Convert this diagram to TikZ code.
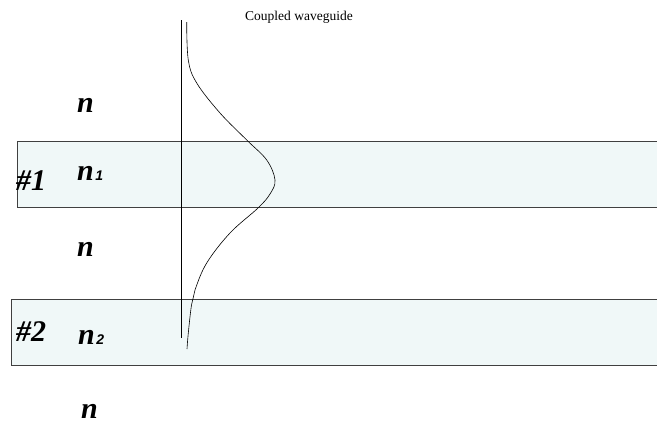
\documentclass[tikz,border=0pt]{standalone}
\usepackage{fontspec}
\setmainfont{Liberation Serif}
\newfontfamily\sansbi{Liberation Sans}[BoldFont={* Bold},BoldItalicFont={* Bold Italic}]
\definecolor{guidefill}{HTML}{F0F8F8}
\definecolor{guideline}{HTML}{404040}
\begin{document}
\begin{tikzpicture}[x=1pt,y=-1pt,
  guide/.style={draw=guideline,line width=0.9pt,fill=guidefill},
  idx/.style={font=\fontsize{30}{30}\selectfont\bfseries\itshape,anchor=base west,inner sep=0pt},
  subidx/.style={font=\fontsize{14}{14}\selectfont\sansbi\bfseries\itshape,anchor=base west,inner sep=0pt,xshift=1pt},
  lbl/.style={font=\fontsize{13.5}{13.5}\selectfont,anchor=base,inner sep=0pt}]
\useasboundingbox (0,0) rectangle (657,423);
\draw[guide] (17,141) rectangle (660,207);
\draw[guide] (11,299) rectangle (660,365);
\coordinate (axtop) at (181,20);
\coordinate (axbot) at (181,338);
\draw[line width=0.7pt] (axtop) -- (axbot);
\draw[line width=0.6pt] plot[smooth,tension=0.6] coordinates {(186.7,22) (188.3,60) (196.7,83) (220,113) (246.7,140) (266.7,160) (275,180) (270,194) (258,208) (230,233) (206.7,263) (195,290) (191.5,305) (188.3,333) (187,349)};
\node[lbl] (title) at (299,20) {Coupled waveguide};
\node[idx] (na) at (77,112) {n};
\node[idx] (n1) at (77,180) {n};
\node[subidx] (s1) at (n1.base east) {1};
\node[idx] (g1) at (16,190) {\#1};
\node[idx] (nb) at (77,256) {n};
\node[idx] (g2) at (16,341.5) {\#2};
\node[idx] (n2) at (78,344) {n};
\node[subidx] (s2) at (n2.base east) {2};
\node[idx] (nc) at (81,418.5) {n};
\end{tikzpicture}
\end{document}
